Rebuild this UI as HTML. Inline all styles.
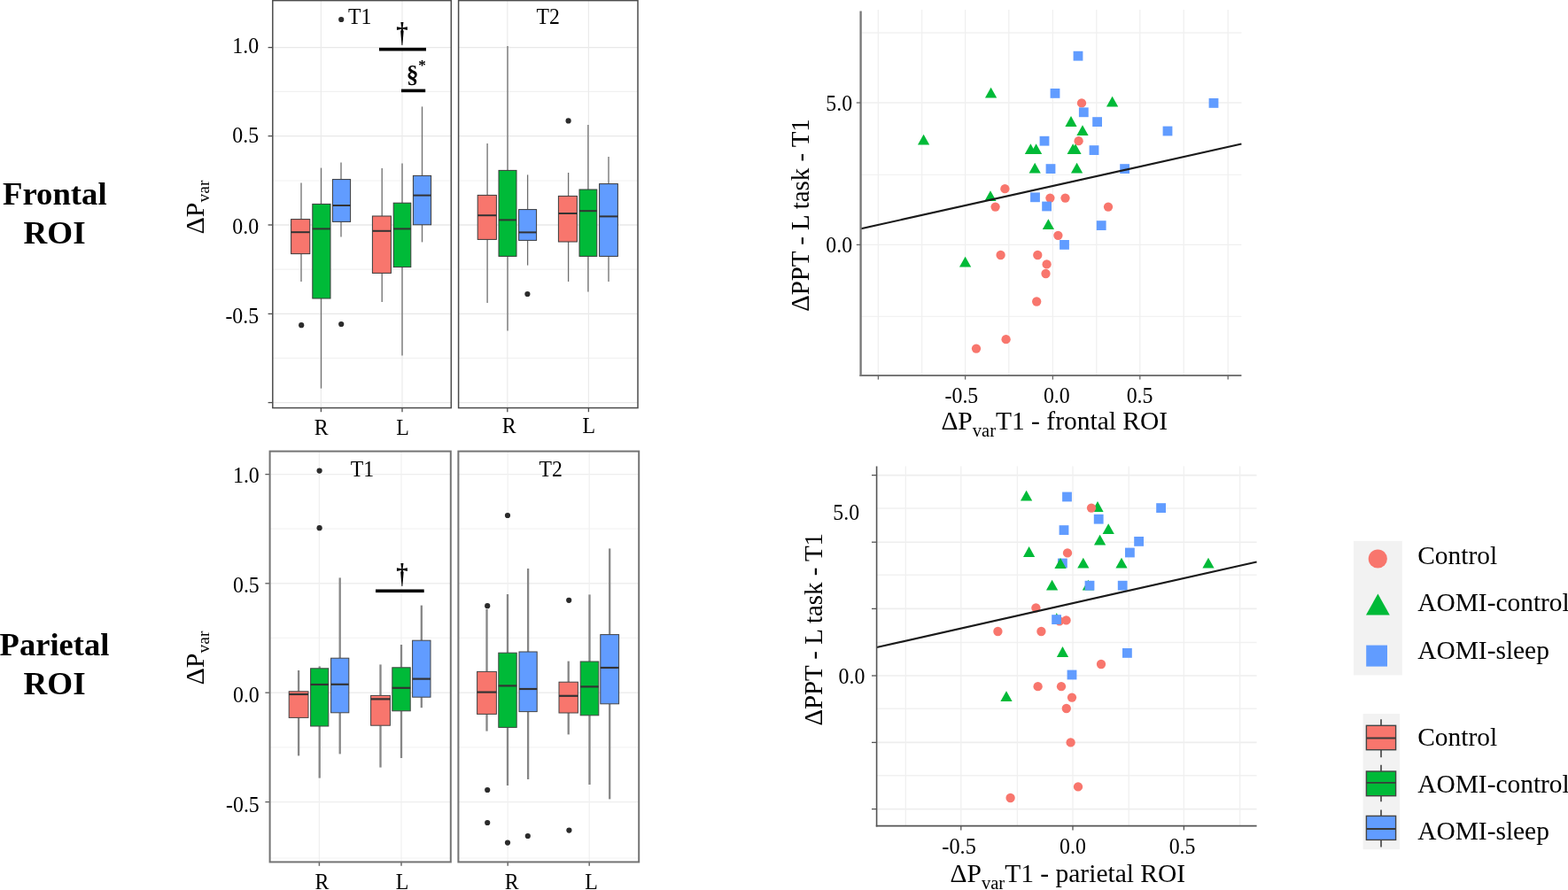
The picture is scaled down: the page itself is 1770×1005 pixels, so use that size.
<!DOCTYPE html>
<html lang="en">
<head>
<meta charset="utf-8">
<title>Frontal and parietal ROI: boxplots and correlations</title>
<style>
html,body{margin:0;padding:0;background:#ffffff;}
body{width:1770px;height:1005px;overflow:hidden;}
svg text{font-kerning:normal;}
</style>
</head>
<body>
<svg width="1770" height="1005" viewBox="0 0 1770 1005" style="display:block">
<g font-family='"Liberation Serif", "DejaVu Serif", serif' fill="#000000">
<text transform="translate(61.8 231) scale(1.02 1)" font-size="36" text-anchor="middle" font-weight="bold">Frontal</text>
<text transform="translate(61.6 275) scale(1.03 1)" font-size="36" text-anchor="middle" font-weight="bold">ROI</text>
<text transform="translate(61.5 740) scale(1.015 1)" font-size="36" text-anchor="middle" font-weight="bold">Parietal</text>
<text transform="translate(61.6 784.4) scale(1.03 1)" font-size="36" text-anchor="middle" font-weight="bold">ROI</text>
<text transform="translate(229.9 264.5) rotate(-90)" font-size="30">ΔP<tspan font-size="19.5" dy="6.5">var</tspan></text>
<text transform="translate(229.9 773.5) rotate(-90)" font-size="30">ΔP<tspan font-size="19.5" dy="6.5">var</tspan></text>
<rect x="307.8" y="0.6" width="201.5" height="460" fill="#ffffff"/>
<line x1="307.8" y1="103.4" x2="509.3" y2="103.4" stroke="#f1f1f1" stroke-width="1.2"/>
<line x1="307.8" y1="204" x2="509.3" y2="204" stroke="#f1f1f1" stroke-width="1.2"/>
<line x1="307.8" y1="304.2" x2="509.3" y2="304.2" stroke="#f1f1f1" stroke-width="1.2"/>
<line x1="307.8" y1="404.4" x2="509.3" y2="404.4" stroke="#f1f1f1" stroke-width="1.2"/>
<line x1="307.8" y1="53.6" x2="509.3" y2="53.6" stroke="#e8e8e8" stroke-width="1.4"/>
<line x1="307.8" y1="153.6" x2="509.3" y2="153.6" stroke="#e8e8e8" stroke-width="1.4"/>
<line x1="307.8" y1="254" x2="509.3" y2="254" stroke="#e8e8e8" stroke-width="1.4"/>
<line x1="307.8" y1="354.4" x2="509.3" y2="354.4" stroke="#e8e8e8" stroke-width="1.4"/>
<line x1="307.8" y1="454.6" x2="509.3" y2="454.6" stroke="#e8e8e8" stroke-width="1.4"/>
<line x1="362.4" y1="0.6" x2="362.4" y2="460.6" stroke="#ebebeb" stroke-width="1.2"/>
<line x1="454" y1="0.6" x2="454" y2="460.6" stroke="#ebebeb" stroke-width="1.2"/>
<text transform="translate(406.2 26.6) scale(0.95 1)" font-size="25" text-anchor="middle">T1</text>
<rect x="517.6" y="0.6" width="202.4" height="460" fill="#ffffff"/>
<line x1="517.6" y1="103.4" x2="720" y2="103.4" stroke="#f1f1f1" stroke-width="1.2"/>
<line x1="517.6" y1="204" x2="720" y2="204" stroke="#f1f1f1" stroke-width="1.2"/>
<line x1="517.6" y1="304.2" x2="720" y2="304.2" stroke="#f1f1f1" stroke-width="1.2"/>
<line x1="517.6" y1="404.4" x2="720" y2="404.4" stroke="#f1f1f1" stroke-width="1.2"/>
<line x1="517.6" y1="53.6" x2="720" y2="53.6" stroke="#e8e8e8" stroke-width="1.4"/>
<line x1="517.6" y1="153.6" x2="720" y2="153.6" stroke="#e8e8e8" stroke-width="1.4"/>
<line x1="517.6" y1="254" x2="720" y2="254" stroke="#e8e8e8" stroke-width="1.4"/>
<line x1="517.6" y1="354.4" x2="720" y2="354.4" stroke="#e8e8e8" stroke-width="1.4"/>
<line x1="517.6" y1="454.6" x2="720" y2="454.6" stroke="#e8e8e8" stroke-width="1.4"/>
<line x1="572.8" y1="0.6" x2="572.8" y2="460.6" stroke="#ebebeb" stroke-width="1.2"/>
<line x1="664.4" y1="0.6" x2="664.4" y2="460.6" stroke="#ebebeb" stroke-width="1.2"/>
<text transform="translate(618.6 26.6) scale(0.95 1)" font-size="25" text-anchor="middle">T2</text>
<line x1="302.6" y1="53.6" x2="307.8" y2="53.6" stroke="#4d4d4d" stroke-width="1.3"/>
<line x1="302.6" y1="153.6" x2="307.8" y2="153.6" stroke="#4d4d4d" stroke-width="1.3"/>
<line x1="302.6" y1="254" x2="307.8" y2="254" stroke="#4d4d4d" stroke-width="1.3"/>
<line x1="302.6" y1="354.4" x2="307.8" y2="354.4" stroke="#4d4d4d" stroke-width="1.3"/>
<line x1="302.6" y1="454.6" x2="307.8" y2="454.6" stroke="#4d4d4d" stroke-width="1.3"/>
<text transform="translate(292.2 59.6) scale(0.955 1)" font-size="25" text-anchor="end">1.0</text>
<text transform="translate(292.2 161.2) scale(0.955 1)" font-size="25" text-anchor="end">0.5</text>
<text transform="translate(292.2 264.2) scale(0.955 1)" font-size="25" text-anchor="end">0.0</text>
<text transform="translate(292.2 365) scale(0.955 1)" font-size="25" text-anchor="end">-0.5</text>
<line x1="362.4" y1="460.6" x2="362.4" y2="465.2" stroke="#4d4d4d" stroke-width="1.3"/>
<line x1="454" y1="460.6" x2="454" y2="465.2" stroke="#4d4d4d" stroke-width="1.3"/>
<line x1="572.8" y1="460.6" x2="572.8" y2="465.2" stroke="#4d4d4d" stroke-width="1.3"/>
<line x1="664.4" y1="460.6" x2="664.4" y2="465.2" stroke="#4d4d4d" stroke-width="1.3"/>
<text transform="translate(362.8 491) scale(0.955 1)" font-size="25" text-anchor="middle">R</text>
<text transform="translate(454.6 491) scale(0.955 1)" font-size="25" text-anchor="middle">L</text>
<text transform="translate(574.6 489.2) scale(0.955 1)" font-size="25" text-anchor="middle">R</text>
<text transform="translate(664.8 489.2) scale(0.955 1)" font-size="25" text-anchor="middle">L</text>
<line x1="340" y1="206.4" x2="340" y2="247.6" stroke="#6e6e6e" stroke-width="1.3"/>
<line x1="340" y1="286.6" x2="340" y2="318" stroke="#6e6e6e" stroke-width="1.3"/>
<rect x="328.6" y="247.6" width="21.2" height="39" fill="#F8766D" stroke="#3a3a3a" stroke-width="1"/>
<line x1="328.6" y1="262.2" x2="349.8" y2="262.2" stroke="#333333" stroke-width="2"/>
<line x1="362.5" y1="189.6" x2="362.5" y2="230.4" stroke="#6e6e6e" stroke-width="1.3"/>
<line x1="362.5" y1="337" x2="362.5" y2="438.6" stroke="#6e6e6e" stroke-width="1.3"/>
<rect x="352.8" y="230.4" width="20.2" height="106.6" fill="#00BA38" stroke="#3a3a3a" stroke-width="1"/>
<line x1="352.8" y1="258.4" x2="373" y2="258.4" stroke="#333333" stroke-width="2"/>
<line x1="385" y1="183.4" x2="385" y2="202.6" stroke="#6e6e6e" stroke-width="1.3"/>
<line x1="385" y1="250.4" x2="385" y2="267.4" stroke="#6e6e6e" stroke-width="1.3"/>
<rect x="375.4" y="202.6" width="20.2" height="47.8" fill="#619CFF" stroke="#3a3a3a" stroke-width="1"/>
<line x1="375.4" y1="232" x2="395.6" y2="232" stroke="#333333" stroke-width="2"/>
<line x1="431.2" y1="190" x2="431.2" y2="244" stroke="#6e6e6e" stroke-width="1.3"/>
<line x1="431.2" y1="308.4" x2="431.2" y2="341" stroke="#6e6e6e" stroke-width="1.3"/>
<rect x="420.4" y="244" width="21" height="64.4" fill="#F8766D" stroke="#3a3a3a" stroke-width="1"/>
<line x1="420.4" y1="260.8" x2="441.4" y2="260.8" stroke="#333333" stroke-width="2"/>
<line x1="454" y1="184.6" x2="454" y2="229.2" stroke="#6e6e6e" stroke-width="1.3"/>
<line x1="454" y1="301.6" x2="454" y2="401.6" stroke="#6e6e6e" stroke-width="1.3"/>
<rect x="444.2" y="229.2" width="19.6" height="72.4" fill="#00BA38" stroke="#3a3a3a" stroke-width="1"/>
<line x1="444.2" y1="258.4" x2="463.8" y2="258.4" stroke="#333333" stroke-width="2"/>
<line x1="476.5" y1="120.4" x2="476.5" y2="198.4" stroke="#6e6e6e" stroke-width="1.3"/>
<line x1="476.5" y1="253.8" x2="476.5" y2="273.4" stroke="#6e6e6e" stroke-width="1.3"/>
<rect x="466.4" y="198.4" width="20.2" height="55.4" fill="#619CFF" stroke="#3a3a3a" stroke-width="1"/>
<line x1="466.4" y1="220.6" x2="486.6" y2="220.6" stroke="#333333" stroke-width="2"/>
<circle cx="340.2" cy="367.2" r="3.1" fill="#2b2b2b"/>
<circle cx="385.2" cy="366" r="3.1" fill="#2b2b2b"/>
<circle cx="385.2" cy="22" r="3.1" fill="#2b2b2b"/>
<line x1="550.1" y1="162" x2="550.1" y2="220.4" stroke="#6e6e6e" stroke-width="1.3"/>
<line x1="550.1" y1="270.4" x2="550.1" y2="342" stroke="#6e6e6e" stroke-width="1.3"/>
<rect x="539.2" y="220.4" width="21.2" height="50" fill="#F8766D" stroke="#3a3a3a" stroke-width="1"/>
<line x1="539.2" y1="243.2" x2="560.4" y2="243.2" stroke="#333333" stroke-width="2"/>
<line x1="573" y1="52" x2="573" y2="192.4" stroke="#6e6e6e" stroke-width="1.3"/>
<line x1="573" y1="289.4" x2="573" y2="373.6" stroke="#6e6e6e" stroke-width="1.3"/>
<rect x="563" y="192.4" width="20" height="97" fill="#00BA38" stroke="#3a3a3a" stroke-width="1"/>
<line x1="563" y1="248.4" x2="583" y2="248.4" stroke="#333333" stroke-width="2"/>
<line x1="595.6" y1="197.4" x2="595.6" y2="236.6" stroke="#6e6e6e" stroke-width="1.3"/>
<line x1="595.6" y1="271.4" x2="595.6" y2="299.6" stroke="#6e6e6e" stroke-width="1.3"/>
<rect x="585.6" y="236.6" width="20" height="34.8" fill="#619CFF" stroke="#3a3a3a" stroke-width="1"/>
<line x1="585.6" y1="262.4" x2="605.6" y2="262.4" stroke="#333333" stroke-width="2"/>
<line x1="641.6" y1="195" x2="641.6" y2="221.4" stroke="#6e6e6e" stroke-width="1.3"/>
<line x1="641.6" y1="273" x2="641.6" y2="318" stroke="#6e6e6e" stroke-width="1.3"/>
<rect x="630.4" y="221.4" width="21" height="51.6" fill="#F8766D" stroke="#3a3a3a" stroke-width="1"/>
<line x1="630.4" y1="241" x2="651.4" y2="241" stroke="#333333" stroke-width="2"/>
<line x1="663.9" y1="141" x2="663.9" y2="214" stroke="#6e6e6e" stroke-width="1.3"/>
<line x1="663.9" y1="289.4" x2="663.9" y2="329.6" stroke="#6e6e6e" stroke-width="1.3"/>
<rect x="654" y="214" width="19.8" height="75.4" fill="#00BA38" stroke="#3a3a3a" stroke-width="1"/>
<line x1="654" y1="238.2" x2="673.8" y2="238.2" stroke="#333333" stroke-width="2"/>
<line x1="687" y1="177" x2="687" y2="207.6" stroke="#6e6e6e" stroke-width="1.3"/>
<line x1="687" y1="289.4" x2="687" y2="318" stroke="#6e6e6e" stroke-width="1.3"/>
<rect x="676.6" y="207.6" width="20.8" height="81.8" fill="#619CFF" stroke="#3a3a3a" stroke-width="1"/>
<line x1="676.6" y1="244.4" x2="697.4" y2="244.4" stroke="#333333" stroke-width="2"/>
<circle cx="595.4" cy="332" r="3.1" fill="#2b2b2b"/>
<circle cx="641.6" cy="136.4" r="3.1" fill="#2b2b2b"/>
<rect x="307.8" y="0.6" width="201.5" height="460" fill="none" stroke="#4c4c4c" stroke-width="1.5"/>
<rect x="517.6" y="0.6" width="202.4" height="460" fill="none" stroke="#4c4c4c" stroke-width="1.5"/>
<rect x="428" y="53.9" width="53" height="3.6" fill="#000000"/>
<rect x="453" y="100.6" width="27.2" height="3.6" fill="#000000"/>
<text transform="translate(454 46.6) scale(0.86 1)" font-size="31" text-anchor="middle" font-weight="bold">†</text>
<text x="458.8" y="92.6" font-size="27.5" font-weight="bold">§<tspan font-size="17" dy="-13.5" dx="-0.3" font-weight="bold">*</tspan></text>
<rect x="304.6" y="509.6" width="204.2" height="463.8" fill="#ffffff"/>
<line x1="304.6" y1="597.2" x2="508.8" y2="597.2" stroke="#f4f4f4" stroke-width="1.2"/>
<line x1="304.6" y1="720.4" x2="508.8" y2="720.4" stroke="#f4f4f4" stroke-width="1.2"/>
<line x1="304.6" y1="843.8" x2="508.8" y2="843.8" stroke="#f4f4f4" stroke-width="1.2"/>
<line x1="304.6" y1="969" x2="508.8" y2="969" stroke="#f4f4f4" stroke-width="1.2"/>
<line x1="304.6" y1="535.6" x2="508.8" y2="535.6" stroke="#eeeeee" stroke-width="1.4"/>
<line x1="304.6" y1="658.8" x2="508.8" y2="658.8" stroke="#eeeeee" stroke-width="1.4"/>
<line x1="304.6" y1="782.2" x2="508.8" y2="782.2" stroke="#eeeeee" stroke-width="1.4"/>
<line x1="304.6" y1="905.6" x2="508.8" y2="905.6" stroke="#eeeeee" stroke-width="1.4"/>
<line x1="360.4" y1="509.6" x2="360.4" y2="973.4" stroke="#f0f0f0" stroke-width="1.2"/>
<line x1="453" y1="509.6" x2="453" y2="973.4" stroke="#f0f0f0" stroke-width="1.2"/>
<text transform="translate(409 538.4) scale(0.95 1)" font-size="25" text-anchor="middle">T1</text>
<rect x="517.4" y="509.6" width="203.8" height="463.8" fill="#ffffff"/>
<line x1="517.4" y1="597.2" x2="721.2" y2="597.2" stroke="#f4f4f4" stroke-width="1.2"/>
<line x1="517.4" y1="720.4" x2="721.2" y2="720.4" stroke="#f4f4f4" stroke-width="1.2"/>
<line x1="517.4" y1="843.8" x2="721.2" y2="843.8" stroke="#f4f4f4" stroke-width="1.2"/>
<line x1="517.4" y1="969" x2="721.2" y2="969" stroke="#f4f4f4" stroke-width="1.2"/>
<line x1="517.4" y1="535.6" x2="721.2" y2="535.6" stroke="#eeeeee" stroke-width="1.4"/>
<line x1="517.4" y1="658.8" x2="721.2" y2="658.8" stroke="#eeeeee" stroke-width="1.4"/>
<line x1="517.4" y1="782.2" x2="721.2" y2="782.2" stroke="#eeeeee" stroke-width="1.4"/>
<line x1="517.4" y1="905.6" x2="721.2" y2="905.6" stroke="#eeeeee" stroke-width="1.4"/>
<line x1="573.2" y1="509.6" x2="573.2" y2="973.4" stroke="#f0f0f0" stroke-width="1.2"/>
<line x1="665.2" y1="509.6" x2="665.2" y2="973.4" stroke="#f0f0f0" stroke-width="1.2"/>
<text transform="translate(621.8 538.4) scale(0.95 1)" font-size="25" text-anchor="middle">T2</text>
<line x1="299.4" y1="535.6" x2="304.6" y2="535.6" stroke="#5a5a5a" stroke-width="1.3"/>
<line x1="299.4" y1="658.8" x2="304.6" y2="658.8" stroke="#5a5a5a" stroke-width="1.3"/>
<line x1="299.4" y1="782.2" x2="304.6" y2="782.2" stroke="#5a5a5a" stroke-width="1.3"/>
<line x1="299.4" y1="905.6" x2="304.6" y2="905.6" stroke="#5a5a5a" stroke-width="1.3"/>
<text transform="translate(292.8 544.9) scale(0.955 1)" font-size="25" text-anchor="end">1.0</text>
<text transform="translate(292.8 668.8) scale(0.955 1)" font-size="25" text-anchor="end">0.5</text>
<text transform="translate(292.8 793.4) scale(0.955 1)" font-size="25" text-anchor="end">0.0</text>
<text transform="translate(292.8 916.8) scale(0.955 1)" font-size="25" text-anchor="end">-0.5</text>
<line x1="360.4" y1="973.4" x2="360.4" y2="977.8" stroke="#6a6a6a" stroke-width="1.5"/>
<line x1="453" y1="973.4" x2="453" y2="977.8" stroke="#6a6a6a" stroke-width="1.5"/>
<line x1="573.2" y1="973.4" x2="573.2" y2="977.8" stroke="#6a6a6a" stroke-width="1.5"/>
<line x1="665.2" y1="973.4" x2="665.2" y2="977.8" stroke="#6a6a6a" stroke-width="1.5"/>
<text transform="translate(363.4 1003.6) scale(0.955 1)" font-size="25" text-anchor="middle">R</text>
<text transform="translate(454 1003.6) scale(0.955 1)" font-size="25" text-anchor="middle">L</text>
<text transform="translate(577.8 1003.6) scale(0.955 1)" font-size="25" text-anchor="middle">R</text>
<text transform="translate(667.6 1003.6) scale(0.955 1)" font-size="25" text-anchor="middle">L</text>
<line x1="337.1" y1="757" x2="337.1" y2="780.8" stroke="#868686" stroke-width="2.3"/>
<line x1="337.1" y1="810.4" x2="337.1" y2="853.4" stroke="#868686" stroke-width="2.3"/>
<rect x="326.2" y="780.8" width="21.8" height="29.6" fill="#F8766D" stroke="#444444" stroke-width="1"/>
<line x1="326.2" y1="784" x2="348" y2="784" stroke="#333333" stroke-width="2.2"/>
<line x1="360.7" y1="752.4" x2="360.7" y2="754.8" stroke="#868686" stroke-width="2.3"/>
<line x1="360.7" y1="820" x2="360.7" y2="878.6" stroke="#868686" stroke-width="2.3"/>
<rect x="350.6" y="754.8" width="20.2" height="65.2" fill="#00BA38" stroke="#444444" stroke-width="1"/>
<line x1="350.6" y1="773" x2="370.8" y2="773" stroke="#333333" stroke-width="2.2"/>
<line x1="383.7" y1="652.4" x2="383.7" y2="743.2" stroke="#868686" stroke-width="2.3"/>
<line x1="383.7" y1="804.8" x2="383.7" y2="851.4" stroke="#868686" stroke-width="2.3"/>
<rect x="373.6" y="743.2" width="20.2" height="61.6" fill="#619CFF" stroke="#444444" stroke-width="1"/>
<line x1="373.6" y1="772.8" x2="393.8" y2="772.8" stroke="#333333" stroke-width="2.2"/>
<line x1="429.5" y1="750.4" x2="429.5" y2="785.4" stroke="#868686" stroke-width="2.3"/>
<line x1="429.5" y1="819.2" x2="429.5" y2="866.6" stroke="#868686" stroke-width="2.3"/>
<rect x="418.6" y="785.4" width="21.8" height="33.8" fill="#F8766D" stroke="#444444" stroke-width="1"/>
<line x1="418.6" y1="789.4" x2="440.4" y2="789.4" stroke="#333333" stroke-width="2.2"/>
<line x1="453" y1="728" x2="453" y2="753.8" stroke="#868686" stroke-width="2.3"/>
<line x1="453" y1="802.8" x2="453" y2="856" stroke="#868686" stroke-width="2.3"/>
<rect x="442.8" y="753.8" width="20.4" height="49" fill="#00BA38" stroke="#444444" stroke-width="1"/>
<line x1="442.8" y1="776.8" x2="463.2" y2="776.8" stroke="#333333" stroke-width="2.2"/>
<line x1="475.8" y1="683.6" x2="475.8" y2="723.2" stroke="#868686" stroke-width="2.3"/>
<line x1="475.8" y1="787.2" x2="475.8" y2="799.2" stroke="#868686" stroke-width="2.3"/>
<rect x="465.6" y="723.2" width="20.4" height="64" fill="#619CFF" stroke="#444444" stroke-width="1"/>
<line x1="465.6" y1="766.6" x2="486" y2="766.6" stroke="#333333" stroke-width="2.2"/>
<circle cx="360.6" cy="531.6" r="3.1" fill="#2b2b2b"/>
<circle cx="360.6" cy="596.2" r="3.1" fill="#2b2b2b"/>
<line x1="549.5" y1="688" x2="549.5" y2="758.4" stroke="#868686" stroke-width="2.3"/>
<line x1="549.5" y1="806.4" x2="549.5" y2="825.6" stroke="#868686" stroke-width="2.3"/>
<rect x="538.6" y="758.4" width="21.8" height="48" fill="#F8766D" stroke="#444444" stroke-width="1"/>
<line x1="538.6" y1="781.6" x2="560.4" y2="781.6" stroke="#333333" stroke-width="2.2"/>
<line x1="573" y1="671" x2="573" y2="737.2" stroke="#868686" stroke-width="2.3"/>
<line x1="573" y1="821.4" x2="573" y2="887" stroke="#868686" stroke-width="2.3"/>
<rect x="562.8" y="737.2" width="20.4" height="84.2" fill="#00BA38" stroke="#444444" stroke-width="1"/>
<line x1="562.8" y1="774.4" x2="583.2" y2="774.4" stroke="#333333" stroke-width="2.2"/>
<line x1="596.1" y1="642" x2="596.1" y2="736" stroke="#868686" stroke-width="2.3"/>
<line x1="596.1" y1="803.6" x2="596.1" y2="880" stroke="#868686" stroke-width="2.3"/>
<rect x="586" y="736" width="20.2" height="67.6" fill="#619CFF" stroke="#444444" stroke-width="1"/>
<line x1="586" y1="778" x2="606.2" y2="778" stroke="#333333" stroke-width="2.2"/>
<line x1="641.7" y1="746.6" x2="641.7" y2="770.2" stroke="#868686" stroke-width="2.3"/>
<line x1="641.7" y1="805" x2="641.7" y2="829.4" stroke="#868686" stroke-width="2.3"/>
<rect x="631" y="770.2" width="21.4" height="34.8" fill="#F8766D" stroke="#444444" stroke-width="1"/>
<line x1="631" y1="785.8" x2="652.4" y2="785.8" stroke="#333333" stroke-width="2.2"/>
<line x1="665.5" y1="671.4" x2="665.5" y2="747" stroke="#868686" stroke-width="2.3"/>
<line x1="665.5" y1="807.8" x2="665.5" y2="886" stroke="#868686" stroke-width="2.3"/>
<rect x="655.2" y="747" width="20.6" height="60.8" fill="#00BA38" stroke="#444444" stroke-width="1"/>
<line x1="655.2" y1="775.4" x2="675.8" y2="775.4" stroke="#333333" stroke-width="2.2"/>
<line x1="688.2" y1="619.4" x2="688.2" y2="716.6" stroke="#868686" stroke-width="2.3"/>
<line x1="688.2" y1="794.8" x2="688.2" y2="902.4" stroke="#868686" stroke-width="2.3"/>
<rect x="677.8" y="716.6" width="20.8" height="78.2" fill="#619CFF" stroke="#444444" stroke-width="1"/>
<line x1="677.8" y1="754" x2="698.6" y2="754" stroke="#333333" stroke-width="2.2"/>
<circle cx="573" cy="582" r="3.1" fill="#2b2b2b"/>
<circle cx="550.2" cy="684.2" r="3.1" fill="#2b2b2b"/>
<circle cx="642.2" cy="677.8" r="3.1" fill="#2b2b2b"/>
<circle cx="550.2" cy="892" r="3.1" fill="#2b2b2b"/>
<circle cx="550.2" cy="929" r="3.1" fill="#2b2b2b"/>
<circle cx="573" cy="951.6" r="3.1" fill="#2b2b2b"/>
<circle cx="595.8" cy="944" r="3.1" fill="#2b2b2b"/>
<circle cx="642.4" cy="937.6" r="3.1" fill="#2b2b2b"/>
<rect x="304.6" y="509.6" width="204.2" height="463.8" fill="none" stroke="#747474" stroke-width="2"/>
<rect x="517.4" y="509.6" width="203.8" height="463.8" fill="none" stroke="#747474" stroke-width="2"/>
<rect x="424" y="665.5" width="54.7" height="3.6" fill="#000000"/>
<text transform="translate(454 658.2) scale(0.86 1)" font-size="31" text-anchor="middle" font-weight="bold">†</text>
<line x1="972" y1="37" x2="1401.4" y2="37" stroke="#f2f2f2" stroke-width="1.4"/>
<line x1="972" y1="197.4" x2="1401.4" y2="197.4" stroke="#f2f2f2" stroke-width="1.4"/>
<line x1="972" y1="357.4" x2="1401.4" y2="357.4" stroke="#f2f2f2" stroke-width="1.4"/>
<line x1="972" y1="116" x2="1401.4" y2="116" stroke="#efefef" stroke-width="1.4"/>
<line x1="972" y1="276.4" x2="1401.4" y2="276.4" stroke="#efefef" stroke-width="1.4"/>
<line x1="991.4" y1="11" x2="991.4" y2="424" stroke="#f0f0f0" stroke-width="1.3"/>
<line x1="1040.6" y1="11" x2="1040.6" y2="424" stroke="#f0f0f0" stroke-width="1.3"/>
<line x1="1089.6" y1="11" x2="1089.6" y2="424" stroke="#f0f0f0" stroke-width="1.3"/>
<line x1="1138.8" y1="11" x2="1138.8" y2="424" stroke="#f0f0f0" stroke-width="1.3"/>
<line x1="1188.4" y1="11" x2="1188.4" y2="424" stroke="#f0f0f0" stroke-width="1.3"/>
<line x1="1237.8" y1="11" x2="1237.8" y2="424" stroke="#f0f0f0" stroke-width="1.3"/>
<line x1="1286.8" y1="11" x2="1286.8" y2="424" stroke="#f0f0f0" stroke-width="1.3"/>
<line x1="1336.2" y1="11" x2="1336.2" y2="424" stroke="#f0f0f0" stroke-width="1.3"/>
<line x1="1386.2" y1="11" x2="1386.2" y2="424" stroke="#f0f0f0" stroke-width="1.3"/>
<circle cx="1134.4" cy="213.2" r="5.15" fill="#F8766D"/>
<circle cx="1123.6" cy="233.6" r="5.15" fill="#F8766D"/>
<circle cx="1185.4" cy="223.6" r="5.15" fill="#F8766D"/>
<circle cx="1202.5" cy="223.6" r="5.15" fill="#F8766D"/>
<circle cx="1251" cy="233.6" r="5.15" fill="#F8766D"/>
<circle cx="1194.4" cy="265.8" r="5.15" fill="#F8766D"/>
<circle cx="1129.6" cy="288" r="5.15" fill="#F8766D"/>
<circle cx="1171.3" cy="288" r="5.15" fill="#F8766D"/>
<circle cx="1181.6" cy="298.4" r="5.15" fill="#F8766D"/>
<circle cx="1180.5" cy="309" r="5.15" fill="#F8766D"/>
<circle cx="1170.2" cy="340.5" r="5.15" fill="#F8766D"/>
<circle cx="1135.6" cy="383.2" r="5.15" fill="#F8766D"/>
<circle cx="1102" cy="393.6" r="5.15" fill="#F8766D"/>
<circle cx="1221" cy="116.4" r="5.15" fill="#F8766D"/>
<path d="M1118.6 98.7L1125.2 110.5L1112 110.5Z" fill="#00BA38"/>
<path d="M1209 131.1L1215.6 142.9L1202.4 142.9Z" fill="#00BA38"/>
<path d="M1222 141.3L1228.6 153.1L1215.4 153.1Z" fill="#00BA38"/>
<path d="M1042.6 151.7L1049.2 163.5L1036 163.5Z" fill="#00BA38"/>
<path d="M1163.4 162.3L1170 174.1L1156.8 174.1Z" fill="#00BA38"/>
<path d="M1169.6 162.3L1176.2 174.1L1163 174.1Z" fill="#00BA38"/>
<path d="M1211.2 162.3L1217.8 174.1L1204.6 174.1Z" fill="#00BA38"/>
<path d="M1214 162.3L1220.6 174.1L1207.4 174.1Z" fill="#00BA38"/>
<path d="M1168.2 183.7L1174.8 195.5L1161.6 195.5Z" fill="#00BA38"/>
<path d="M1215.6 183.7L1222.2 195.5L1209 195.5Z" fill="#00BA38"/>
<path d="M1118 215.3L1124.6 227.1L1111.4 227.1Z" fill="#00BA38"/>
<path d="M1183.4 247.3L1190 259.1L1176.8 259.1Z" fill="#00BA38"/>
<path d="M1089.6 289.7L1096.2 301.5L1083 301.5Z" fill="#00BA38"/>
<path d="M1255.6 108.7L1262.2 120.5L1249 120.5Z" fill="#00BA38"/>
<circle cx="1217.6" cy="159.2" r="5.15" fill="#F8766D"/>
<rect x="1211.6" y="57.8" width="10.8" height="10.8" fill="#619CFF"/>
<rect x="1185.6" y="100" width="10.8" height="10.8" fill="#619CFF"/>
<rect x="1217.9" y="121.4" width="10.8" height="10.8" fill="#619CFF"/>
<rect x="1173.6" y="153.8" width="10.8" height="10.8" fill="#619CFF"/>
<rect x="1233.2" y="132.2" width="10.8" height="10.8" fill="#619CFF"/>
<rect x="1312.6" y="142.6" width="10.8" height="10.8" fill="#619CFF"/>
<rect x="1229.6" y="164.2" width="10.8" height="10.8" fill="#619CFF"/>
<rect x="1180.6" y="185.2" width="10.8" height="10.8" fill="#619CFF"/>
<rect x="1264.2" y="185.2" width="10.8" height="10.8" fill="#619CFF"/>
<rect x="1163.1" y="217.4" width="10.8" height="10.8" fill="#619CFF"/>
<rect x="1176.2" y="227.6" width="10.8" height="10.8" fill="#619CFF"/>
<rect x="1237.8" y="249.2" width="10.8" height="10.8" fill="#619CFF"/>
<rect x="1196.1" y="271" width="10.8" height="10.8" fill="#619CFF"/>
<rect x="1364.6" y="111" width="10.8" height="10.8" fill="#619CFF"/>
<line x1="972" y1="258.2" x2="1401.4" y2="162.6" stroke="#1a1a1a" stroke-width="2.1"/>
<line x1="971.6" y1="12.4" x2="971.6" y2="425" stroke="#777777" stroke-width="2.3"/>
<line x1="970.5" y1="424" x2="1401.4" y2="424" stroke="#777777" stroke-width="2.1"/>
<line x1="966.8" y1="116" x2="972" y2="116" stroke="#666666" stroke-width="1.3"/>
<line x1="966.8" y1="276.4" x2="972" y2="276.4" stroke="#666666" stroke-width="1.3"/>
<line x1="991.4" y1="424" x2="991.4" y2="428.6" stroke="#666666" stroke-width="1.3"/>
<line x1="1089.6" y1="424" x2="1089.6" y2="428.6" stroke="#666666" stroke-width="1.3"/>
<line x1="1188.4" y1="424" x2="1188.4" y2="428.6" stroke="#666666" stroke-width="1.3"/>
<line x1="1286.8" y1="424" x2="1286.8" y2="428.6" stroke="#666666" stroke-width="1.3"/>
<line x1="1386.2" y1="424" x2="1386.2" y2="428.6" stroke="#666666" stroke-width="1.3"/>
<text transform="translate(962.2 124.8) scale(0.955 1)" font-size="25" text-anchor="end">5.0</text>
<text transform="translate(962.2 284.8) scale(0.955 1)" font-size="25" text-anchor="end">0.0</text>
<text transform="translate(1085.4 455.2) scale(0.955 1)" font-size="25" text-anchor="middle">-0.5</text>
<text transform="translate(1192.8 455.2) scale(0.955 1)" font-size="25" text-anchor="middle">0.0</text>
<text transform="translate(1286.6 455.2) scale(0.955 1)" font-size="25" text-anchor="middle">0.5</text>
<text x="1062.4" y="485.4" font-size="29.5">ΔP<tspan font-size="20.5" dy="7.6">var</tspan><tspan dy="-7.6">T1 - frontal ROI</tspan></text>
<text transform="translate(913.2 351.8) rotate(-90)" font-size="30" textLength="217.6" lengthAdjust="spacingAndGlyphs">ΔPPT - L task - T1</text>
<line x1="989.6" y1="574" x2="1418.6" y2="574" stroke="#f1f1f1" stroke-width="1.5"/>
<line x1="989.6" y1="649.2" x2="1418.6" y2="649.2" stroke="#f1f1f1" stroke-width="1.5"/>
<line x1="989.6" y1="725.4" x2="1418.6" y2="725.4" stroke="#f1f1f1" stroke-width="1.5"/>
<line x1="989.6" y1="800.2" x2="1418.6" y2="800.2" stroke="#f1f1f1" stroke-width="1.5"/>
<line x1="989.6" y1="875.8" x2="1418.6" y2="875.8" stroke="#f1f1f1" stroke-width="1.5"/>
<line x1="989.6" y1="536.6" x2="1418.6" y2="536.6" stroke="#eeeeee" stroke-width="1.6"/>
<line x1="989.6" y1="612.2" x2="1418.6" y2="612.2" stroke="#eeeeee" stroke-width="1.6"/>
<line x1="989.6" y1="687.4" x2="1418.6" y2="687.4" stroke="#eeeeee" stroke-width="1.6"/>
<line x1="989.6" y1="763" x2="1418.6" y2="763" stroke="#eeeeee" stroke-width="1.6"/>
<line x1="989.6" y1="838.4" x2="1418.6" y2="838.4" stroke="#eeeeee" stroke-width="1.6"/>
<line x1="989.6" y1="913.6" x2="1418.6" y2="913.6" stroke="#eeeeee" stroke-width="1.6"/>
<line x1="1022.4" y1="526.6" x2="1022.4" y2="932.6" stroke="#f0f0f0" stroke-width="1.3"/>
<line x1="1084.8" y1="526.6" x2="1084.8" y2="932.6" stroke="#f0f0f0" stroke-width="1.3"/>
<line x1="1148.4" y1="526.6" x2="1148.4" y2="932.6" stroke="#f0f0f0" stroke-width="1.3"/>
<line x1="1211" y1="526.6" x2="1211" y2="932.6" stroke="#f0f0f0" stroke-width="1.3"/>
<line x1="1274.2" y1="526.6" x2="1274.2" y2="932.6" stroke="#f0f0f0" stroke-width="1.3"/>
<line x1="1336.4" y1="526.6" x2="1336.4" y2="932.6" stroke="#f0f0f0" stroke-width="1.3"/>
<line x1="1399.6" y1="526.6" x2="1399.6" y2="932.6" stroke="#f0f0f0" stroke-width="1.3"/>
<circle cx="1205" cy="624.4" r="5.15" fill="#F8766D"/>
<circle cx="1169.4" cy="686.4" r="5.15" fill="#F8766D"/>
<circle cx="1196" cy="701.4" r="5.15" fill="#F8766D"/>
<circle cx="1203.6" cy="700.4" r="5.15" fill="#F8766D"/>
<circle cx="1126.4" cy="713" r="5.15" fill="#F8766D"/>
<circle cx="1175.4" cy="713" r="5.15" fill="#F8766D"/>
<circle cx="1243" cy="750" r="5.15" fill="#F8766D"/>
<circle cx="1171.6" cy="775.2" r="5.15" fill="#F8766D"/>
<circle cx="1198" cy="775.2" r="5.15" fill="#F8766D"/>
<circle cx="1210" cy="787.6" r="5.15" fill="#F8766D"/>
<circle cx="1203.8" cy="800" r="5.15" fill="#F8766D"/>
<circle cx="1208.6" cy="838.4" r="5.15" fill="#F8766D"/>
<circle cx="1217" cy="888.4" r="5.15" fill="#F8766D"/>
<circle cx="1140.6" cy="901" r="5.15" fill="#F8766D"/>
<rect x="1194" y="630.6" width="10.8" height="10.8" fill="#619CFF"/>
<path d="M1192.8 692L1197.4 702.6L1188.2 702.6Z" fill="#00BA38"/>
<path d="M1158.6 553.7L1165.2 565.5L1152 565.5Z" fill="#00BA38"/>
<path d="M1239 566.1L1245.6 577.9L1232.4 577.9Z" fill="#00BA38"/>
<circle cx="1232" cy="573.6" r="5.15" fill="#F8766D"/>
<path d="M1251.2 591.3L1257.8 603.1L1244.6 603.1Z" fill="#00BA38"/>
<path d="M1241.6 603.7L1248.2 615.5L1235 615.5Z" fill="#00BA38"/>
<path d="M1161.6 617.1L1168.2 628.9L1155 628.9Z" fill="#00BA38"/>
<path d="M1197 630.1L1203.6 641.9L1190.4 641.9Z" fill="#00BA38"/>
<path d="M1222.8 629.7L1229.4 641.5L1216.2 641.5Z" fill="#00BA38"/>
<path d="M1266 629.7L1272.6 641.5L1259.4 641.5Z" fill="#00BA38"/>
<path d="M1364 629.7L1370.6 641.5L1357.4 641.5Z" fill="#00BA38"/>
<path d="M1187.6 654.7L1194.2 666.5L1181 666.5Z" fill="#00BA38"/>
<path d="M1228.4 654.7L1235 666.5L1221.8 666.5Z" fill="#00BA38"/>
<path d="M1199.5 730.1L1206.1 741.9L1192.9 741.9Z" fill="#00BA38"/>
<path d="M1136 780.3L1142.6 792.1L1129.4 792.1Z" fill="#00BA38"/>
<rect x="1199.1" y="555.6" width="10.8" height="10.8" fill="#619CFF"/>
<rect x="1305.2" y="568.2" width="10.8" height="10.8" fill="#619CFF"/>
<rect x="1234.8" y="580.8" width="10.8" height="10.8" fill="#619CFF"/>
<rect x="1195.6" y="593.2" width="10.8" height="10.8" fill="#619CFF"/>
<rect x="1280.2" y="606" width="10.8" height="10.8" fill="#619CFF"/>
<rect x="1270" y="618.6" width="10.8" height="10.8" fill="#619CFF"/>
<rect x="1224.6" y="655.8" width="10.8" height="10.8" fill="#619CFF"/>
<rect x="1261.8" y="655.8" width="10.8" height="10.8" fill="#619CFF"/>
<rect x="1187.2" y="694.2" width="10.8" height="10.8" fill="#619CFF"/>
<rect x="1267" y="732" width="10.8" height="10.8" fill="#619CFF"/>
<rect x="1204.6" y="756.6" width="10.8" height="10.8" fill="#619CFF"/>
<line x1="989.6" y1="731" x2="1418.6" y2="634.4" stroke="#1a1a1a" stroke-width="2.1"/>
<line x1="989.6" y1="526.6" x2="989.6" y2="933.4" stroke="#555555" stroke-width="1.6"/>
<line x1="988.8" y1="932.6" x2="1418.6" y2="932.6" stroke="#555555" stroke-width="1.6"/>
<line x1="984" y1="536.6" x2="989.6" y2="536.6" stroke="#555555" stroke-width="1.3"/>
<line x1="984" y1="612.2" x2="989.6" y2="612.2" stroke="#555555" stroke-width="1.3"/>
<line x1="984" y1="687.4" x2="989.6" y2="687.4" stroke="#555555" stroke-width="1.3"/>
<line x1="984" y1="763" x2="989.6" y2="763" stroke="#555555" stroke-width="1.3"/>
<line x1="984" y1="838.4" x2="989.6" y2="838.4" stroke="#555555" stroke-width="1.3"/>
<line x1="984" y1="913.6" x2="989.6" y2="913.6" stroke="#555555" stroke-width="1.3"/>
<line x1="1084.8" y1="932.6" x2="1084.8" y2="937.4" stroke="#555555" stroke-width="1.3"/>
<line x1="1211" y1="932.6" x2="1211" y2="937.4" stroke="#555555" stroke-width="1.3"/>
<line x1="1336.4" y1="932.6" x2="1336.4" y2="937.4" stroke="#555555" stroke-width="1.3"/>
<text transform="translate(970.2 587) scale(0.955 1)" font-size="25" text-anchor="end">5.0</text>
<text transform="translate(976.4 772) scale(0.955 1)" font-size="25" text-anchor="end">0.0</text>
<text transform="translate(1082.6 963.6) scale(0.975 1)" font-size="25" text-anchor="middle">-0.5</text>
<text transform="translate(1211 963.6) scale(0.955 1)" font-size="25" text-anchor="middle">0.0</text>
<text transform="translate(1334.6 963.6) scale(0.955 1)" font-size="25" text-anchor="middle">0.5</text>
<text x="1072.6" y="996.2" font-size="29.5">ΔP<tspan font-size="20.5" dy="7.6">var</tspan><tspan dy="-7.6">T1 - parietal ROI</tspan></text>
<text transform="translate(927.6 819.6) rotate(-90)" font-size="30" textLength="217.6" lengthAdjust="spacingAndGlyphs">ΔPPT - L task - T1</text>
<rect x="1528" y="610.8" width="54.8" height="151.6" fill="#f2f2f2"/>
<circle cx="1555.3" cy="631" r="10.6" fill="#F8766D"/>
<path d="M1555.4 670.6L1568.8 694.6L1542 694.6Z" fill="#00BA38"/>
<rect x="1542.2" y="728.6" width="23.8" height="24" fill="#619CFF"/>
<text transform="translate(1600.2 637.4) scale(0.968 1)" font-size="30.4" text-anchor="start">Control</text>
<text transform="translate(1600.2 689.8) scale(0.968 1)" font-size="30.4" text-anchor="start">AOMI-control</text>
<text transform="translate(1600.2 743.6) scale(0.968 1)" font-size="30.4" text-anchor="start">AOMI-sleep</text>
<rect x="1538.6" y="806" width="41.6" height="153.2" fill="#f2f2f2"/>
<line x1="1559" y1="812.3" x2="1559" y2="855.2" stroke="#555555" stroke-width="1.8"/>
<rect x="1542.4" y="819.3" width="33.2" height="27.4" fill="#F8766D" stroke="#444444" stroke-width="1.4"/>
<line x1="1542.4" y1="833.5" x2="1575.6" y2="833.5" stroke="#3a3a3a" stroke-width="1.8"/>
<line x1="1559" y1="863.7" x2="1559" y2="905.2" stroke="#555555" stroke-width="1.8"/>
<rect x="1542.4" y="871" width="33.2" height="27.7" fill="#00BA38" stroke="#444444" stroke-width="1.4"/>
<line x1="1542.4" y1="883.8" x2="1575.6" y2="883.8" stroke="#3a3a3a" stroke-width="1.8"/>
<line x1="1559" y1="914.4" x2="1559" y2="956.4" stroke="#555555" stroke-width="1.8"/>
<rect x="1542.4" y="921.4" width="33.2" height="27" fill="#619CFF" stroke="#444444" stroke-width="1.4"/>
<line x1="1542.4" y1="936" x2="1575.6" y2="936" stroke="#3a3a3a" stroke-width="1.8"/>
<text transform="translate(1600.2 842) scale(0.968 1)" font-size="30.4" text-anchor="start">Control</text>
<text transform="translate(1600.2 894.6) scale(0.968 1)" font-size="30.4" text-anchor="start">AOMI-control</text>
<text transform="translate(1600.2 948) scale(0.968 1)" font-size="30.4" text-anchor="start">AOMI-sleep</text>
</g>
</svg>
</body>
</html>
